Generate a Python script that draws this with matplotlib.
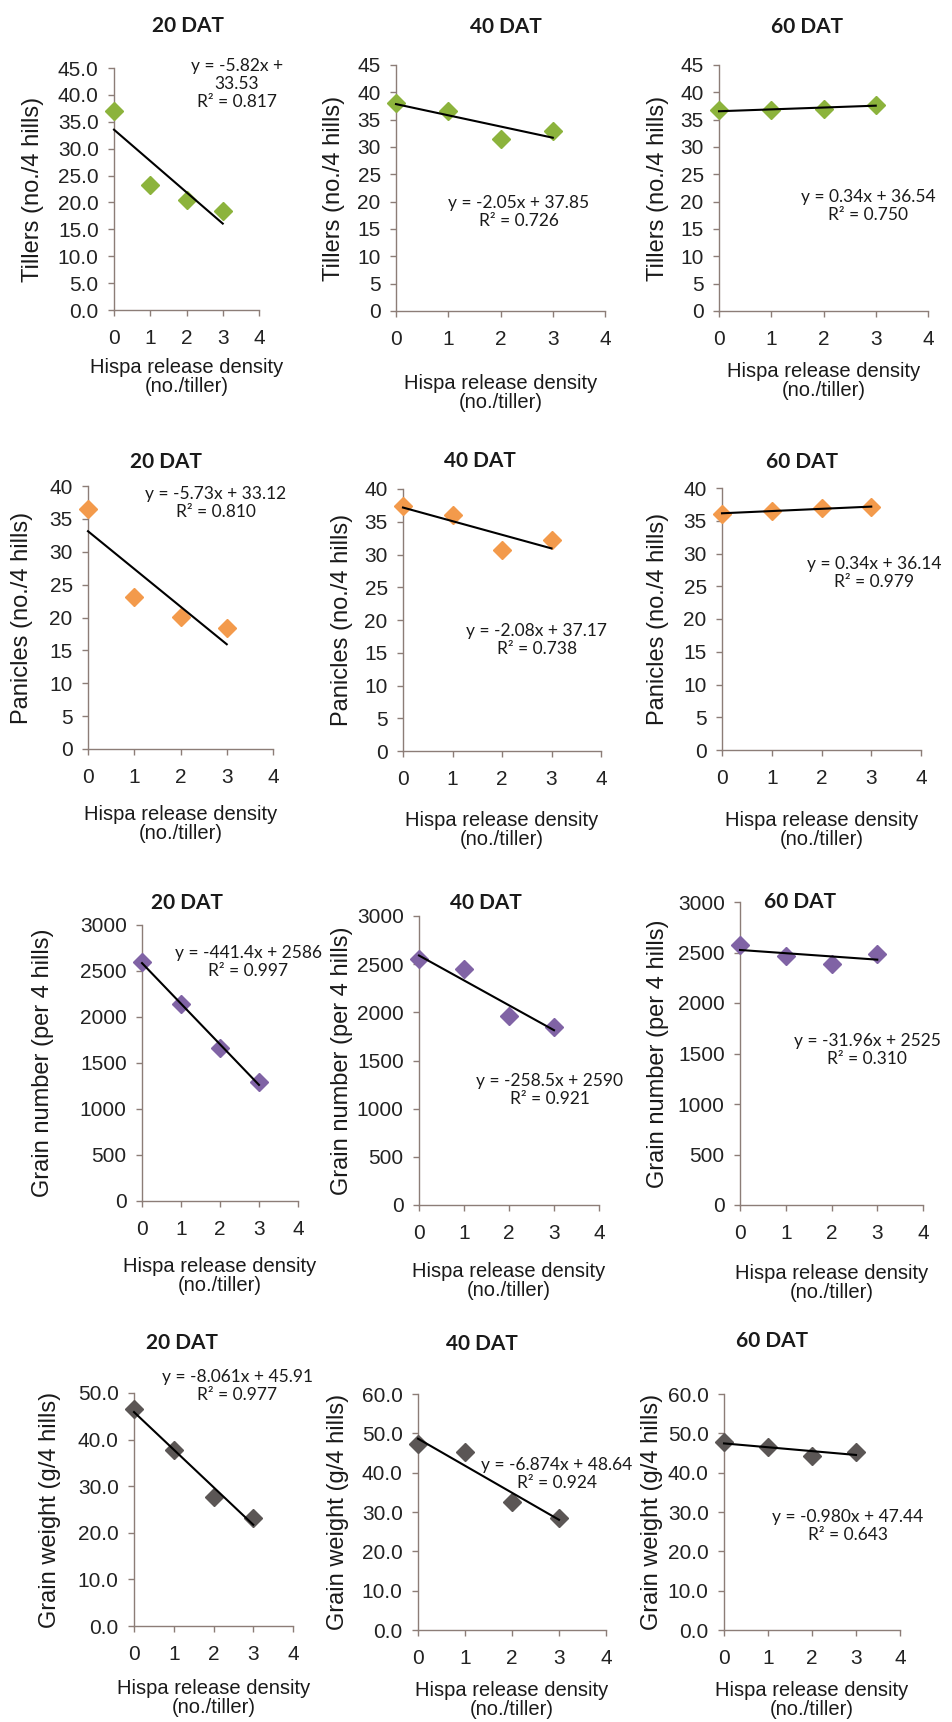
import numpy as np
import matplotlib
matplotlib.use('Agg')
import matplotlib.pyplot as plt

# hispa release density (no./tiller)
density = [0, 1, 2, 3]

# values, one list per panel
tillers_20 = [37.0, 23.3, 20.5, 18.5]
tillers_40 = [38.0, 36.5, 31.5, 33.0]
tillers_60 = [36.7, 36.8, 37.0, 37.7]
panicles_20 = [36.5, 23.1, 20.1, 18.4]
panicles_40 = [37.4, 36.0, 30.7, 32.2]
panicles_60 = [36.1, 36.5, 36.9, 37.1]
grains_20 = [2600, 2140, 1660, 1290]
grains_40 = [2550, 2450, 1960, 1850]
grains_60 = [2570, 2465, 2385, 2490]
weight_20 = [46.5, 37.7, 27.6, 23.2]
weight_40 = [47.2, 45.2, 32.6, 28.4]
weight_60 = [47.8, 46.6, 44.2, 45.2]

# printed trendline coefficients (slope, intercept) and R²
slopes = [-5.82, -2.05, 0.34, -5.73, -2.08, 0.34, -441.4, -258.5, -31.96, -8.061, -6.874, -0.980]
intercepts = [33.53, 37.85, 36.54, 33.12, 37.17, 36.14, 2586, 2590, 2525, 45.91, 48.64, 47.44]
r2 = ['0.817', '0.726', '0.750', '0.810', '0.738', '0.979', '0.997', '0.921', '0.310', '0.977', '0.924', '0.643']
eq_text = ['y = -5.82x +\n33.53', 'y = -2.05x + 37.85', 'y = 0.34x + 36.54',
           'y = -5.73x + 33.12', 'y = -2.08x + 37.17', 'y = 0.34x + 36.14',
           'y = -441.4x + 2586', 'y = -258.5x + 2590', 'y = -31.96x + 2525',
           'y = -8.061x + 45.91', 'y = -6.874x + 48.64', 'y = -0.980x + 47.44']

titles = ['20 DAT', '40 DAT', '60 DAT']
ylabels = ['Tillers (no./4 hills)', 'Panicles (no./4 hills)',
           'Grain number (per 4 hills)', 'Grain weight (g/4 hills)']
rows = [[tillers_20, tillers_40, tillers_60],
        [panicles_20, panicles_40, panicles_60],
        [grains_20, grains_40, grains_60],
        [weight_20, weight_40, weight_60]]
colors = ['#8CB33C', '#F39A4B', '#8063A5', '#5B5655']
ymax = [[45, 45, 45], [40, 40, 40], [3000, 3000, 3000], [50, 60, 60]]
ystep = [5, 5, 500, 10]
yfmt = [['%.1f', '%d', '%d'], ['%d', '%d', '%d'], ['%d', '%d', '%d'], ['%.1f', '%.1f', '%.1f']]

# layout in pixels of the 952x1722 picture: left, right, top, bottom of each axes
boxes = [(114, 259, 68, 310), (396, 605, 65, 311), (719, 928, 65, 311),
         (88, 273, 486, 749), (403, 601, 489, 751), (722, 921, 488, 750),
         (142, 298, 925, 1201), (419, 599, 916, 1205), (740, 923, 902, 1205),
         (134, 293, 1393, 1626), (418, 606, 1394, 1630), (724, 900, 1394, 1630)]
title_pos = [(188, 26), (506, 27), (807, 27), (166, 462), (480, 461), (802, 462),
             (187, 903), (486, 903), (800, 902), (182, 1343), (482, 1344), (772, 1341)]
eq_pos = [(237, 84), (519, 212), (868, 206), (216, 503), (537, 640), (874, 573),
          (248, 962), (550, 1090), (867, 1050), (237, 1386), (557, 1474), (848, 1526)]
ylabel_x = [33, 334, 658, 22, 342, 658, 43, 342, 658, 50, 338, 652]
xlabel_y = [377, 393, 381, 824, 830, 830, 1276, 1281, 1283, 1698, 1700, 1700]

W, H = 952, 1722
AXIS = '#8C7D77'

plt.rcParams['font.family'] = ['Liberation Sans', 'DejaVu Sans']
fig = plt.figure(figsize=(W / 100, H / 100), dpi=100)


def fx(x):
    return x / W


def fy(y):
    return 1 - y / H


for i in range(12):
    r, c = divmod(i, 3)
    l, rgt, t, b = boxes[i]
    ax = fig.add_axes([fx(l), fy(b), fx(rgt) - fx(l), fy(t) - fy(b)])
    vals = rows[r][c]
    ax.plot(density, vals, 'D', color=colors[r], ms=9, zorder=3, clip_on=False)
    xs = np.array([0, 3])
    ax.plot(xs, slopes[i] * xs + intercepts[i], color='black', lw=1.5, zorder=4, clip_on=False)

    ax.set_xlim(0, 4)
    ax.set_ylim(0, ymax[r][c])
    ax.set_xticks([0, 1, 2, 3, 4])
    ax.set_yticks(np.arange(0, ymax[r][c] + 1, ystep[r]))
    ax.yaxis.set_major_formatter(matplotlib.ticker.FormatStrFormatter(yfmt[r][c]))
    for s in ['top', 'right']:
        ax.spines[s].set_visible(False)
    for s in ['left', 'bottom']:
        ax.spines[s].set_color(AXIS)
        ax.spines[s].set_linewidth(1.0)
    ax.tick_params(axis='both', colors=AXIS, labelcolor='#222222', labelsize=15,
                   length=4, width=1, direction='out')
    ax.tick_params(axis='x', pad=10)
    ax.tick_params(axis='y', pad=7)

    fig.text(fx(title_pos[i][0]), fy(title_pos[i][1]), titles[c], family='Lato',
             fontweight='bold', fontsize=15, ha='center', va='center', color='#1a1a1a')
    fig.text(fx(eq_pos[i][0]), fy(eq_pos[i][1]), eq_text[i] + '\nR² = ' + r2[i],
             family='Lato', fontsize=12.5, ha='center', va='center',
             linespacing=1.15, color='#1a1a1a')
    fig.text(fx(ylabel_x[i]), fy((t + b) / 2), ylabels[r], rotation=90, fontsize=17,
             ha='center', va='center', color='#1a1a1a')
    fig.text(fx((l + rgt) / 2), fy(xlabel_y[i]),
             'Hispa release density\n(no./tiller)', fontsize=14.5, ha='center',
             va='center', linespacing=1.0, color='#1a1a1a')

plt.savefig('out.png', dpi=100)
